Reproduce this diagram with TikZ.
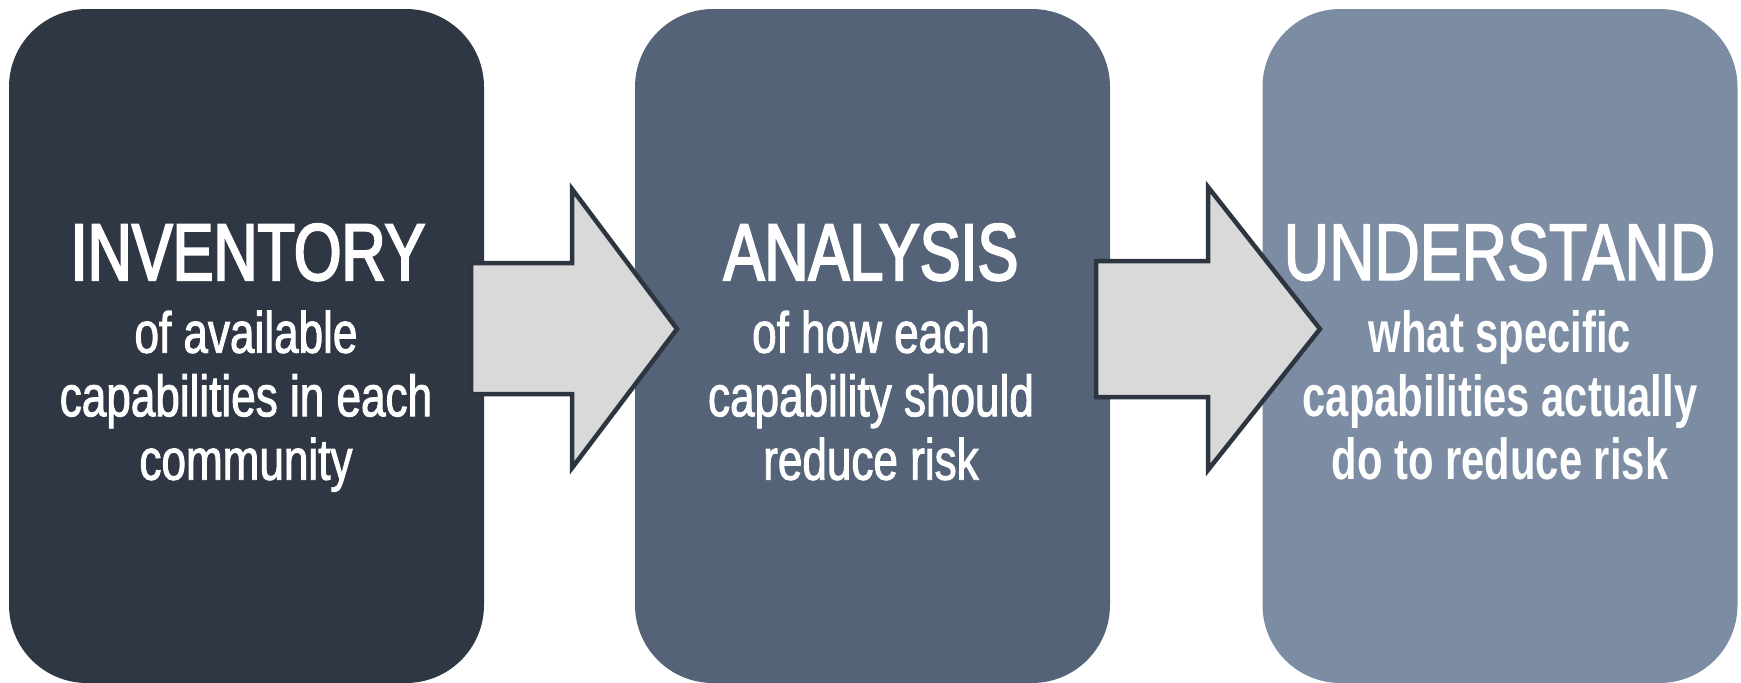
\documentclass[tikz,border=0pt]{standalone}
\usepackage{fontspec}
\setmainfont{Liberation Sans}
\newfontfamily\headfont[FakeStretch=0.76, FakeBold=2.6]{Liberation Sans}
\newfontfamily\stagefont[FakeStretch=0.76, FakeBold=1.6]{Liberation Sans}
\newfontfamily\lastfont[FakeStretch=0.78, FakeBold=1.8]{Liberation Sans}
\newfontfamily\lastsubfont[FakeStretch=0.72]{Liberation Sans}
\usetikzlibrary{calc}

\definecolor{invcol}{HTML}{303744}
\definecolor{anacol}{HTML}{546378}
\definecolor{undcol}{HTML}{7C8CA3}
\definecolor{arrowfill}{HTML}{D9D9D9}
\definecolor{arrowline}{HTML}{2D3540}

\tikzset{
    stage/.style={rectangle, rounded corners=78pt, minimum width=475pt, minimum height=674pt, inner sep=0pt, draw=none},
    flowarrow/.style={fill=arrowfill, draw=arrowline, line width=4.5pt, line join=miter},
    headtext/.style={text=white, inner sep=0pt, anchor=base, font=\headfont\fontsize{80.5}{80.5}\selectfont},
    subtext/.style={text=white, align=center, inner sep=0pt, anchor=north, font=\stagefont\fontsize{58}{63.5}\selectfont},
}

\begin{document}
\begin{tikzpicture}[x=1pt, y=-1pt]
            \useasboundingbox (0, 0) rectangle (1741, 683);
            \node[stage, fill=invcol] (INV) at (246.5, 346) {};
            \node[stage, fill=anacol] (ANA) at (872.5, 346) {};
            \node[stage, fill=undcol] (UND) at (1500, 346) {};
            \draw[flowarrow] (471, 263) -- (572, 263) -- (572, 189) -- (677, 329) -- (572, 468) -- (572, 394) -- (471, 394) -- cycle;
            \draw[flowarrow] (1096, 261) -- (1208, 261) -- (1208, 187) -- (1320, 329) -- (1208, 470) -- (1208, 397) -- (1096, 397) -- cycle;
            \node[headtext] (INVhead) at (248, 280) {INVENTORY};
            \node[subtext] (INVsub) at (246, 310.5) {of available\\capabilities in each\\community};
            \node[headtext] (ANAhead) at (871, 280) {ANALYSIS};
            \node[subtext] (ANAsub) at (871, 310.5) {of how each\\capability should\\reduce risk};
            \node[headtext, font=\lastfont\fontsize{80.5}{80.5}\selectfont] (UNDhead) at (1499.5, 280) {UNDERSTAND};
            \node[subtext, font=\lastsubfont\bfseries\fontsize{58}{63.5}\selectfont] (UNDsub) at (1500, 310.5) {what specific\\capabilities actually\\do to reduce risk};
        \end{tikzpicture}
\end{document}
